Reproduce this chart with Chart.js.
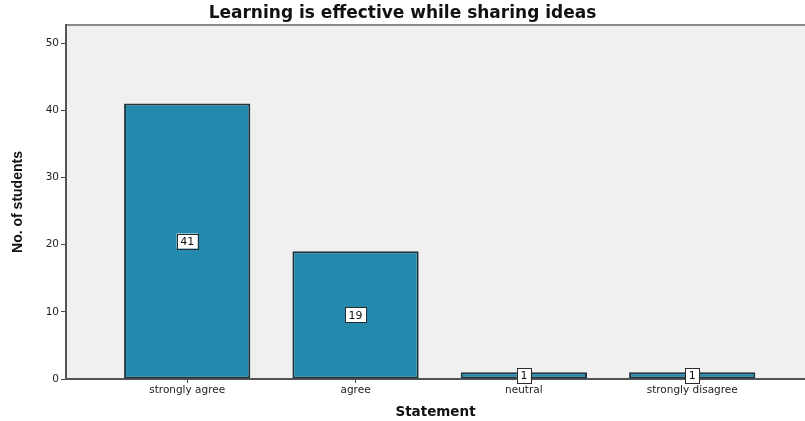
<!DOCTYPE html>
<html>
<head>
<meta charset="utf-8">
<script src="https://cdn.jsdelivr.net/npm/chart.js@4"></script>
<style>
  html, body { margin: 0; padding: 0; background: #fff; }
  #wrap { width: 805px; height: 421px; }
</style>
</head>
<body>
<div id="wrap"><canvas id="c"></canvas></div>
<script>
var categories = ['strongly agree', 'agree', 'neutral', 'strongly disagree'];
var counts = [41, 19, 1, 1];
var yTicks = [0, 10, 20, 30, 40, 50];

// plot area background and top border
var plotFrame = {
  id: 'plotFrame',
  beforeDraw: function (chart) {
    var a = chart.chartArea, ctx = chart.ctx;
    ctx.save();
    ctx.fillStyle = '#f0f0f0';
    ctx.fillRect(a.left, a.top, a.right - a.left, a.bottom - a.top);
    ctx.strokeStyle = '#8a8a8a';
    ctx.lineWidth = 2;
    ctx.beginPath();
    ctx.moveTo(a.left, a.top);
    ctx.lineTo(a.right, a.top);
    ctx.stroke();
    ctx.restore();
  }
};

// white boxed value labels in the middle of each bar
var boxLabels = {
  id: 'boxLabels',
  afterDatasetsDraw: function (chart) {
    var ctx = chart.ctx;
    var meta = chart.getDatasetMeta(0);
    ctx.save();
    ctx.font = '11px "DejaVu Sans", Verdana, sans-serif';
    ctx.textAlign = 'center';
    ctx.textBaseline = 'middle';
    meta.data.forEach(function (bar, i) {
      var txt = String(counts[i]);
      var cy = (bar.y + bar.base) / 2;
      var w = ctx.measureText(txt).width + 7;
      var h = 15;
      ctx.fillStyle = '#ffffff';
      ctx.fillRect(bar.x - w / 2, cy - h / 2, w, h);
      ctx.strokeStyle = '#2a2a2a';
      ctx.lineWidth = 1;
      ctx.strokeRect(Math.round(bar.x - w / 2) + 0.5, Math.round(cy - h / 2) + 0.5, Math.round(w), h);
      ctx.fillStyle = '#111';
      ctx.fillText(txt, bar.x, cy + 1);
    });
    ctx.restore();
  }
};

new Chart(document.getElementById('c'), {
  type: 'bar',
  data: {
    datasets: [{
      data: counts.map(function (v, i) { return { x: i, y: v }; }),
      backgroundColor: '#248aad',
      borderColor: '#1e3540',
      borderWidth: 2,
      borderSkipped: false,
      categoryPercentage: 1,
      barPercentage: 0.75
    }]
  },
  options: {
    responsive: true,
    maintainAspectRatio: false,
    animation: false,
    layout: { padding: 0 },
    plugins: {
      legend: { display: false },
      tooltip: { enabled: false },
      title: {
        display: true,
        text: 'Learning is effective while sharing ideas',
        color: '#111',
        font: { family: '"DejaVu Sans", Verdana, sans-serif', size: 17, weight: 'bold' },
        padding: { top: 3.5, bottom: 1.1 }
      }
    },
    scales: {
      x: {
        type: 'linear',
        offset: false,
        min: -0.72,
        max: 3.67,
        afterBuildTicks: function (axis) {
          axis.ticks = categories.map(function (c, i) { return { value: i }; });
        },
        afterFit: function (s) { s.height = 42; },
        ticks: {
          color: '#222',
          font: { family: '"DejaVu Sans", Verdana, sans-serif', size: 10.5 },
          padding: 1,
          maxRotation: 0,
          autoSkip: false,
          callback: function (v) { return categories[v]; }
        },
        grid: { offset: false, drawOnChartArea: false, drawTicks: true, tickLength: 4, color: '#444' },
        border: { color: '#555', width: 2 },
        title: {
          display: true,
          text: 'Statement',
          color: '#111',
          font: { family: '"DejaVu Sans", Verdana, sans-serif', size: 13.5, weight: 'bold' },
          padding: { top: 2, bottom: 0 }
        }
      },
      y: {
        min: 0,
        max: 52.7,
        afterBuildTicks: function (axis) {
          axis.ticks = yTicks.map(function (v) { return { value: v }; });
        },
        afterFit: function (s) { s.width = 66; },
        ticks: {
          color: '#222',
          font: { family: '"DejaVu Sans", Verdana, sans-serif', size: 10.5 },
          padding: 2
        },
        grid: { drawOnChartArea: false, drawTicks: true, tickLength: 5, color: '#444' },
        border: { color: '#555', width: 2 },
        title: {
          display: true,
          text: 'No. of students',
          color: '#111',
          font: { family: '"Liberation Sans Narrow", "Arial Narrow", sans-serif', size: 14, weight: 'bold' },
          padding: { top: 10, bottom: 4 }
        }
      }
    }
  },
  plugins: [plotFrame, boxLabels]
});
</script>
</body>
</html>
